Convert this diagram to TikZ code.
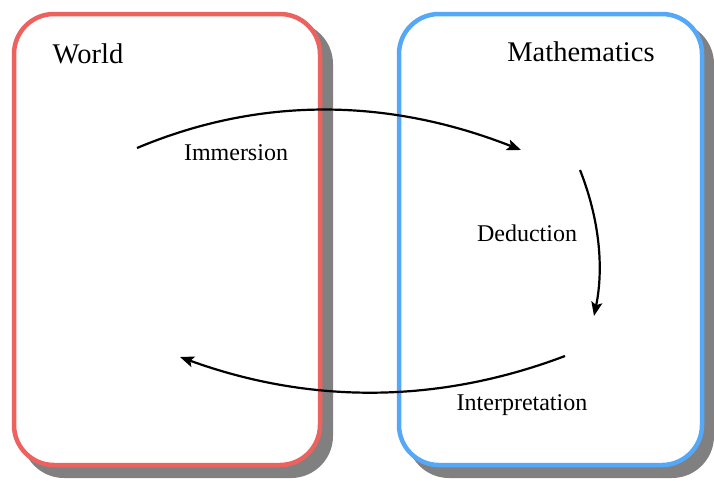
\documentclass[tikz,border=0pt]{standalone}
\usepackage{fontspec}
\setmainfont{Liberation Serif}
\usetikzlibrary{arrows.meta}
\tikzset{
  panel/.style={line width=4.5pt, rounded corners=40pt, fill=white},
  shadowbox/.style={fill=black!50, rounded corners=42pt},
  title/.style={font=\fontsize{28.5}{34}\selectfont, inner sep=0pt},
  lbl/.style={font=\fontsize{24}{29}\selectfont, inner sep=0pt},
  flow/.style={line width=2.2pt, -{Stealth[length=14pt, width=11pt, inset=3pt]}}
}
\definecolor{worldred}{HTML}{EC625E}
\definecolor{mathblue}{HTML}{55A8F8}
\begin{document}
\begin{tikzpicture}[x=1pt, y=-1pt]
  \useasboundingbox (0,0) rectangle (714,480);
  % shadows
  \fill[shadowbox] (22,22) rectangle (333,478);
  \fill[shadowbox] (407,22) rectangle (714,478);
  % panels
  \draw[panel, draw=worldred] (14,14) rectangle (320,465);
  \draw[panel, draw=mathblue] (399,14) rectangle (702,465);
  % titles
  \node[title] (world) at (88,54) {World};
  \node[title] (math) at (581,52) {Mathematics};
  % endpoints
  \coordinate (iS) at (137,148);
  \coordinate (iE) at (521,150);
  \coordinate (dS) at (580,170);
  \coordinate (dE) at (594,316);
  \coordinate (pS) at (565,356);
  \coordinate (pE) at (180,357);
  % arrows
  \draw[flow] (iS) .. controls (259,96.7) and (387,97.3) .. (iE);
  \draw[flow] (dS) .. controls (599.3,218.7) and (604,267.3) .. (dE);
  \draw[flow] (pS) .. controls (438.3,404) and (310,404.3) .. (pE);
  % labels
  \node[lbl] (imm) at (236,153) {Immersion};
  \node[lbl] (ded) at (527,233) {Deduction};
  \node[lbl] (int) at (522,405) {Interpretation};
\end{tikzpicture}
\end{document}
